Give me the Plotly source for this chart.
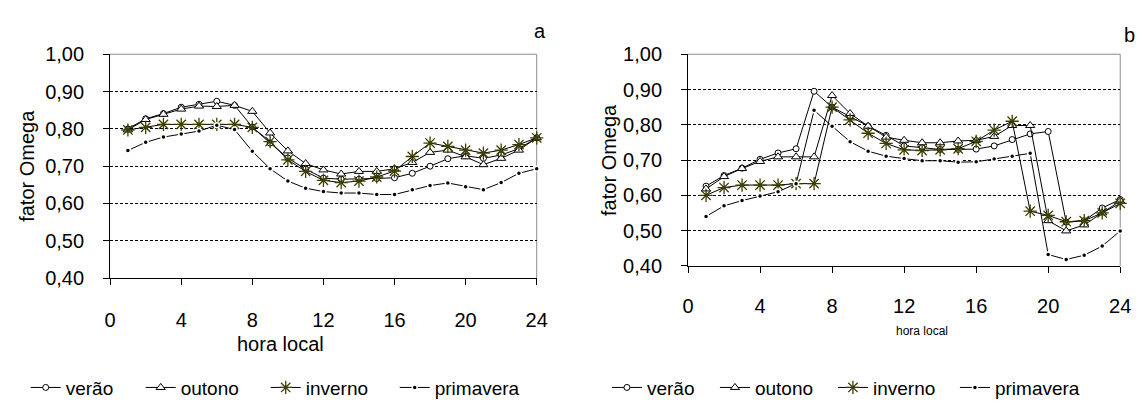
import plotly.graph_objects as go

W, H = 1146, 409
hours = list(range(1, 25))

# Chart a
a_verao = [0.80, 0.827, 0.841, 0.858, 0.866, 0.874, 0.863, 0.805, 0.762, 0.722, 0.692,
           0.668, 0.665, 0.665, 0.667, 0.669, 0.681, 0.700, 0.720, 0.728, 0.721, 0.730, 0.747, 0.776]
a_outono = [0.797, 0.825, 0.839, 0.853, 0.861, 0.860, 0.863, 0.847, 0.789, 0.741, 0.707,
            0.690, 0.679, 0.686, 0.686, 0.693, 0.710, 0.737, 0.743, 0.725, 0.704, 0.721, 0.743, 0.776]
a_inverno = [0.797, 0.804, 0.812, 0.812, 0.812, 0.812, 0.812, 0.804, 0.766, 0.717, 0.686,
             0.662, 0.656, 0.660, 0.671, 0.687, 0.726, 0.762, 0.753, 0.743, 0.735, 0.743, 0.758, 0.776]
a_primavera = [0.742, 0.764, 0.778, 0.786, 0.794, 0.810, 0.798, 0.740, 0.693, 0.660, 0.641,
               0.632, 0.628, 0.628, 0.624, 0.624, 0.637, 0.648, 0.655, 0.645, 0.637, 0.656, 0.681, 0.693]

# Chart b
b_verao = [0.626, 0.656, 0.677, 0.702, 0.720, 0.732, 0.895, 0.850, 0.823, 0.796, 0.770,
           0.740, 0.735, 0.730, 0.730, 0.731, 0.740, 0.758, 0.774, 0.781, 0.524, 0.528, 0.564, 0.588]
b_outono = [0.618, 0.653, 0.676, 0.696, 0.709, 0.709, 0.709, 0.883, 0.832, 0.796, 0.765,
            0.756, 0.749, 0.749, 0.754, 0.756, 0.767, 0.798, 0.798, 0.528, 0.499, 0.516, 0.550, 0.584]
b_inverno = [0.600, 0.622, 0.629, 0.629, 0.629, 0.633, 0.633, 0.850, 0.814, 0.776, 0.747,
             0.729, 0.727, 0.729, 0.732, 0.753, 0.785, 0.810, 0.555, 0.543, 0.525, 0.528, 0.550, 0.577]
b_primavera = [0.540, 0.570, 0.585, 0.598, 0.610, 0.633, 0.841, 0.796, 0.752, 0.725, 0.711,
               0.704, 0.698, 0.698, 0.694, 0.695, 0.703, 0.711, 0.719, 0.432, 0.418, 0.430, 0.456, 0.499]

series_names = ["verão", "outono", "inverno", "primavera"]
x_ticks = [0, 4, 8, 12, 16, 20, 24]
y_ticks = [0.40, 0.50, 0.60, 0.70, 0.80, 0.90, 1.00]
y_ticklabels = ["0,40", "0,50", "0,60", "0,70", "0,80", "0,90", "1,00"]

FONT = "Liberation Sans, Arial, sans-serif"
STAR = "#3d3d00"

styles = [
    dict(marker=dict(symbol="circle", size=6, color="white", line=dict(color="black", width=1)),
         line=dict(color="black", width=1)),
    dict(marker=dict(symbol="triangle-up", size=8, color="white", line=dict(color="black", width=1)),
         line=dict(color="black", width=1)),
    dict(marker=dict(symbol="asterisk-open", size=11, color=STAR, line=dict(color=STAR, width=1.3)),
         line=dict(color="black", width=1)),
    dict(marker=dict(symbol="circle", size=5, color="black", line=dict(color="white", width=1.5)),
         line=dict(color="black", width=1)),
]

# legend entry widths (text width + gap), per chart
leg_w_a = [70, 80, 84, 100]
leg_w_b = [63, 73, 77, 100]

fig = go.Figure()
for data, xa, ya, leg, lw in [((a_verao, a_outono, a_inverno, a_primavera), "x", "y", "legend", leg_w_a),
                              ((b_verao, b_outono, b_inverno, b_primavera), "x2", "y2", "legend2", leg_w_b)]:
    for name, vals, st, w in zip(series_names, data, styles, lw):
        fig.add_trace(go.Scatter(x=hours, y=vals, mode="lines+markers", name=name,
                                 xaxis=xa, yaxis=ya, legend=leg, legendwidth=w,
                                 cliponaxis=False, **st))

def px_x(p):
    return p / W

def px_y(p):
    return 1 - p / H

ax_common = dict(showline=True, linecolor="black", linewidth=1, ticks="outside", ticklen=6,
                 tickcolor="black", tickfont=dict(family=FONT, size=20, color="black"),
                 zeroline=False)

fig.update_layout(
    width=W, height=H, margin=dict(l=0, r=0, t=0, b=0),
    paper_bgcolor="white", plot_bgcolor="white",
    font=dict(family=FONT, size=20, color="black"),
    xaxis=dict(domain=[px_x(105.7), px_x(538.7)], range=[0, 24], tickvals=x_ticks,
               showgrid=False, anchor="y", ticklabelstandoff=18, **ax_common),
    yaxis=dict(domain=[px_y(282.3), px_y(45.7)], range=[0.40, 1.00], tickvals=y_ticks,
               ticktext=y_ticklabels, showgrid=True, gridcolor="black", griddash="3px,2px",
               gridwidth=0.8, anchor="x", ticklabelstandoff=15, **ax_common),
    xaxis2=dict(domain=[px_x(692.3), px_x(1131)], range=[0, 24], tickvals=x_ticks,
                showgrid=False, anchor="y2", ticklabelstandoff=16, **ax_common),
    yaxis2=dict(domain=[px_y(269.3), px_y(45.7)], range=[0.40, 1.00], tickvals=y_ticks,
                ticktext=y_ticklabels, showgrid=True, gridcolor="black", griddash="3px,2px",
                gridwidth=0.8, anchor="x2", ticklabelstandoff=15, **ax_common),
    legend=dict(orientation="h", x=px_x(20), y=px_y(398), xanchor="left", yanchor="middle",
                font=dict(family=FONT, size=19), bgcolor="rgba(0,0,0,0)", itemwidth=30,
                tracegroupgap=0),
    legend2=dict(orientation="h", x=px_x(610), y=px_y(398), xanchor="left", yanchor="middle",
                 font=dict(family=FONT, size=19), bgcolor="rgba(0,0,0,0)", itemwidth=30,
                 tracegroupgap=0),
    showlegend=True,
)

# gray top / right plot borders
for xr, yr in [("x domain", "y domain"), ("x2 domain", "y2 domain")]:
    fig.add_shape(type="line", xref=xr, yref=yr, x0=0, x1=1, y0=1, y1=1,
                  line=dict(color="#8c8c8c", width=1), layer="below")
    fig.add_shape(type="line", xref=xr, yref=yr, x0=1, x1=1, y0=0, y1=1,
                  line=dict(color="#8c8c8c", width=1), layer="below")

def label(text, x, y, size=20, angle=0):
    fig.add_annotation(text=text, xref="paper", yref="paper", x=px_x(x), y=px_y(y),
                       showarrow=False, font=dict(family=FONT, size=size, color="black"),
                       xanchor="center", yanchor="middle", textangle=angle)

label("a", 542, 21)
label("b", 1140, 25)
label("fator Omega", 22, 164, 20, -90)
label("fator Omega", 612, 157.5, 20, -90)
label("hora local", 279, 352, 20)
label("hora local", 930, 338, 12)

fig.write_html("out.html", config={"displayModeBar": False},
               post_script="document.body.style.margin='0';")
